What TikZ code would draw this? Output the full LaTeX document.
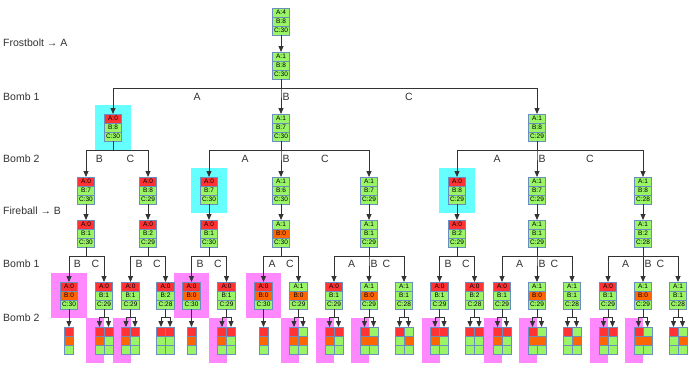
\documentclass[tikz,border=0pt]{standalone}
\usepackage{fontspec}
\setmainfont{Liberation Sans}
\usetikzlibrary{arrows.meta,positioning,backgrounds,fit,calc}

\definecolor{hpgreen}{HTML}{99F466}
\definecolor{hpred}{HTML}{FF3333}
\definecolor{hporange}{HTML}{FF6600}
\definecolor{cellline}{HTML}{6C8EBF}
\definecolor{hlcyan}{HTML}{66FFFF}
\definecolor{hlpink}{HTML}{FF88FF}
\definecolor{linkgray}{HTML}{333333}

\tikzset{
  cell/.style={draw=cellline, line width=0.7pt, minimum width=17.5pt, minimum height=9pt,
    inner sep=0pt, outer sep=0pt, font=\fontsize{6.5}{7}\selectfont},
  gcell/.style={cell, minimum width=9pt},
  link/.style={draw=linkgray, line width=0.8pt, -{Triangle[length=6pt,width=5pt]}},
  lbl/.style={font=\fontsize{10.5}{12}\selectfont, text=linkgray, inner sep=0pt},
  rowlbl/.style={lbl, anchor=west},
  cyanhl/.style={fill=hlcyan, inner sep=9pt},
  pinkhl/.style={fill=hlpink, inner sep=9pt},
}

% hit points of the three targets, stacked
\newcommand\state[5]{% name, top centre, A, B, C
  \ifnum#3=0 \tikzset{fillA/.style={fill=hpred}}\else\tikzset{fillA/.style={fill=hpgreen}}\fi
  \ifnum#4=0 \tikzset{fillB/.style={fill=hporange}}\else\tikzset{fillB/.style={fill=hpgreen}}\fi
  \node[cell, fillA, anchor=north] (#1-a) at (#2) {A:#3};
  \node[cell, fillB, below=0pt of #1-a] (#1-b) {B:#4};
  \node[cell, fill=hpgreen, below=0pt of #1-b] (#1-c) {C:#5};
}
% one column of a result grid
\newcommand\outcol[4]{% name, top centre, A, B
  \ifnum#3=0 \tikzset{fillA/.style={fill=hpred}}\else\tikzset{fillA/.style={fill=hpgreen}}\fi
  \ifnum#4=0 \tikzset{fillB/.style={fill=hporange}}\else\tikzset{fillB/.style={fill=hpgreen}}\fi
  \node[gcell, fillA, anchor=north] (#1-a) at (#2) {};
  \node[gcell, fillB, below=0pt of #1-a] (#1-b) {};
  \node[gcell, fill=hpgreen, below=0pt of #1-b] (#1-c) {};
}

\begin{document}
\begin{tikzpicture}[x=1pt, y=-1pt]
\useasboundingbox (0,0) rectangle (690,365);

% row captions
\node[rowlbl] (cap1) at (3,43) {Frostbolt → A};
\node[rowlbl] (cap2) at (3,97) {Bomb 1};
\node[rowlbl] (cap3) at (3,159) {Bomb 2};
\node[rowlbl] (cap4) at (3,211) {Fireball → B};
\node[rowlbl] (cap5) at (3,264) {Bomb 1};
\node[rowlbl] (cap6) at (3,318) {Bomb 2};

% start and frostbolt
\state{s0}{281,8}{4}{8}{30}
\state{s1}{281,52}{1}{8}{30}
\draw[link] (s0-c.south) -- (s1-a.north);

% first bomb
\state{a}{113,114}{0}{8}{30}
\state{b}{281,114}{1}{7}{30}
\state{c}{537,114}{1}{8}{29}
\foreach \n in {a,b,c}
  \draw[link] (s1-c.south) -- ++(0,9) -| (\n-a.north);
\node[lbl] (t-a) at (197,97) {A};
\node[lbl] (t-b) at (286,97) {B};
\node[lbl] (t-c) at (409,97) {C};

% second bomb, then fireball on B
\foreach \p/\n/\x/\lx/\t/\va/\vb/\vc/\vf in {a/ab/86/99.5/B/0/7/30/1,
    a/ac/148/130.5/C/0/8/29/2, b/ba/209/245/A/0/7/30/1, b/bb/281/286/B/1/6/30/0,
    b/bc/369/325/C/1/7/29/1, c/ca/457/497/A/0/8/29/2, c/cb/537/542/B/1/7/29/1,
    c/cc/643/590/C/1/8/28/2}{
  \state{\n}{\x,177}{\va}{\vb}{\vc}
  \state{f\n}{\x,220}{\va}{\vf}{\vc}
  \draw[link] (\p-c.south) -- ++(0,9) -| (\n-a.north);
  \draw[link] (\n-c.south) -- (f\n-a.north);
  \node[lbl] (t-\n) at (\lx,159) {\t};
}

% third bomb
\foreach \p/\n/\x/\va/\vb/\vc in {fab/abb/69/0/0/30, fab/abc/104/0/1/29,
    fac/acb/130.5/0/1/29, fac/acc/165.5/0/2/28, fba/bab/191.5/0/0/30,
    fba/bac/226.5/0/1/29, fbb/bba/263.5/0/0/30, fbb/bbc/298.5/1/0/29,
    fbc/bca/334/0/1/29, fbc/bcb/369/1/0/29, fbc/bcc/404/1/1/28,
    fca/cab/439.5/0/1/29, fca/cac/474.5/0/2/28, fcb/cba/502/0/1/29,
    fcb/cbb/537/1/0/29, fcb/cbc/572/1/1/28, fcc/cca/608/0/1/29,
    fcc/ccb/643/1/0/29, fcc/ccc/678/1/1/28}{
  \state{\n}{\x,282}{\va}{\vb}{\vc}
  \draw[link] (\p-c.south) -- ++(0,9) -| (\n-a.north);
}
\foreach \n/\x/\t in {abb/77.5/B, abc/95.5/C, acb/139/B, acc/157/C, bab/200/B,
    bac/218/C, bba/272/A, bbc/290/C, bca/351.5/A, bcb/374/B, bcc/386.5/C,
    cab/448/B, cac/466/C, cba/519.5/A, cbb/542/B, cbc/554.5/C, cca/625.5/A,
    ccb/648/B, ccc/660.5/C}
  \node[lbl] (t-\n) at (\x,264) {\t};

% fourth bomb: result grids
\foreach \n in {abb,bab,bba}{
  \outcol{\n-m}{\n-c.south |- 0,327}{0}{0}
  \draw[link] (\n-c.south) -- (\n-m-a.north);
}
\foreach \n/\x/\aone/\bone/\atwo/\btwo in {abc/104/0/0/0/1, acb/130.5/0/0/0/1,
    acc/165.5/0/1/0/1, bac/226.5/0/0/0/1, bbc/298.5/0/0/1/0, bca/334/0/0/0/1,
    bcb/369/0/0/1/0, bcc/404/0/1/1/0, cab/439.5/0/0/0/1, cac/474.5/0/1/0/1,
    cba/502/0/0/0/1, cbb/537/0/0/1/0, cbc/572/0/1/1/0, cca/608/0/0/0/1,
    ccb/643/0/0/1/0, ccc/678/0/1/1/0}{
  \outcol{\n-l}{{\x-4.5},327}{\aone}{\bone}
  \outcol{\n-r}{{\x+4.5},327}{\atwo}{\btwo}
  \draw[link] (\n-c.south) -- ++(0,8) -| (\n-l-a.north);
  \draw[link] (\n-c.south) -- ++(0,8) -| (\n-r-a.north);
}

% highlights
\begin{scope}[on background layer]
  \fill[white] (0,0) rectangle (690,365);
  \foreach \n in {a,ba,ca}
    \node[cyanhl, fit=(\n-a)(\n-c)] (\n-hl) {};
  \foreach \n in {abb,bab,bba}
    \node[pinkhl, fit=(\n-a)(\n-c)] (\n-hl) {};
  \foreach \n in {abc,acb,bac,bbc,bca,bcb,cab,cba,cbb,cca,ccb}
    \fill[hlpink] ($(\n-l-a.north west)+(-9,-9)$) rectangle ($(\n-l-c.south east)+(0,9)$);
\end{scope}
\end{tikzpicture}
\end{document}
